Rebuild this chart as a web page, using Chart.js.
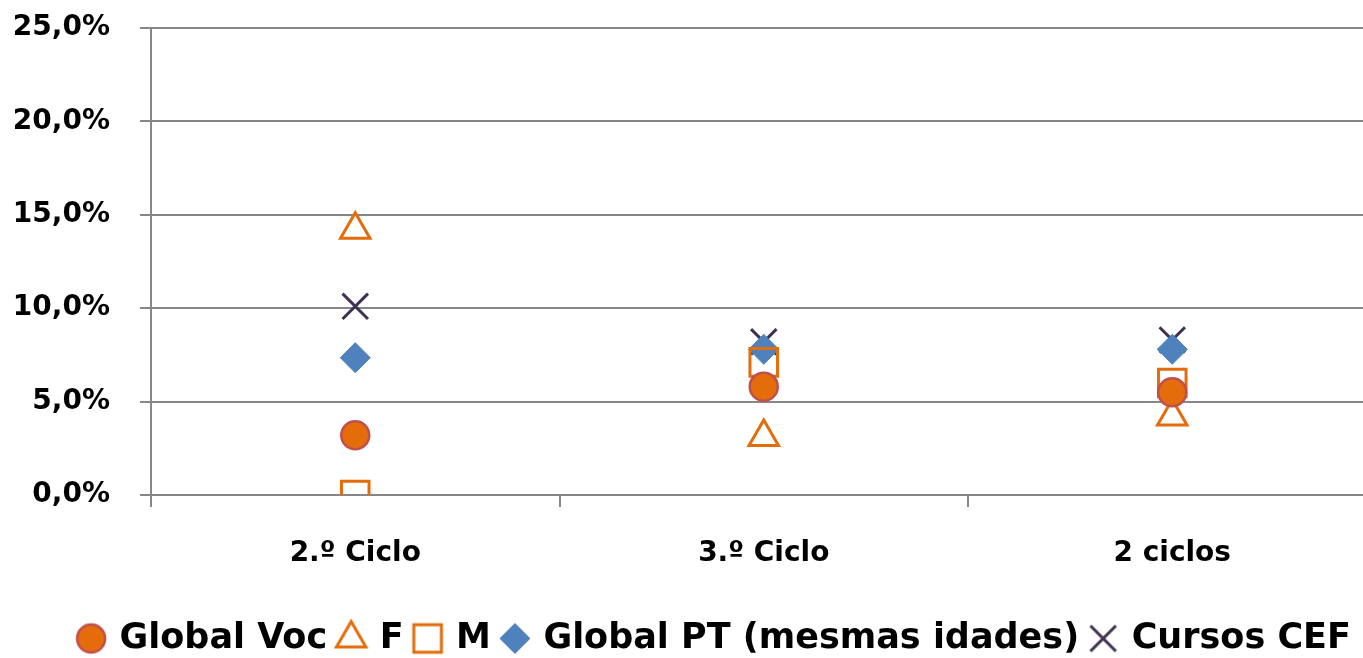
<!DOCTYPE html>
<html>
<head>
<meta charset="utf-8">
<script src="https://cdn.jsdelivr.net/npm/chart.js@4/dist/chart.umd.min.js"></script>
<style>
  html, body { margin: 0; padding: 0; background: #fff; overflow: hidden; }
  canvas { display: block; }
</style>
</head>
<body>
<canvas id="c" width="1399" height="658"></canvas>
<script>
// Categories and series (percent values)
const categories = ['2.º Ciclo', '3.º Ciclo', '2 ciclos'];
const globalVoc = [3.2, 5.8, 5.5];
const femSeries = [14.2, 3.1, 4.2];
const mascSeries = [0.0, 7.1, 6.0];
const globalPT = [7.35, 7.8, 7.8];
const cursosCEF = [10.1, 8.2, 8.3];
const yTicks = [0, 5, 10, 15, 20, 25];

const FONT = '"DejaVu Sans"';
const GRID = '#878787';

const ds = (label, data, style, radius, fill, border, bw) => ({
  label, data,
  showLine: false,
  pointStyle: style,
  pointRadius: radius,
  pointHoverRadius: radius,
  pointBackgroundColor: fill,
  pointBorderColor: border,
  pointBorderWidth: bw,
  backgroundColor: fill,
  borderColor: border,
  borderWidth: bw
});

// Legend symbols drawn at the same size as the plotted markers
function legendSymbol(dset) {
  const s = 44;
  const cv = document.createElement('canvas');
  cv.width = s; cv.height = s;
  const ctx = cv.getContext('2d');
  ctx.fillStyle = dset.pointBackgroundColor;
  ctx.strokeStyle = dset.pointBorderColor;
  ctx.lineWidth = dset.pointBorderWidth;
  Chart.helpers.drawPoint(ctx, {
    pointStyle: dset.pointStyle,
    radius: dset.pointRadius,
    borderWidth: dset.pointBorderWidth,
    rotation: 0
  }, s / 2, s / 2);
  return cv;
}

// Nudges the legend row after layout
const legendShift = {
  id: 'legendShift',
  afterLayout(chart) {
    const lg = chart.legend;
    if (lg) {
      lg.left += 11; lg.right += 11;
      lg.top += 8; lg.bottom += 8;
    }
  }
};

new Chart(document.getElementById('c'), {
  type: 'line',
  data: {
    labels: categories,
    datasets: [
      ds('Global Voc', globalVoc, 'circle', 14, '#E46C0A', '#C0504D', 2.5),
      ds('F', femSeries, 'triangle', 17, 'rgba(255,255,255,0)', '#E46C0A', 3),
      ds('M', mascSeries, 'rect', 19.5, 'rgba(255,255,255,0)', '#E46C0A', 3),
      ds('Global PT (mesmas idades)', globalPT, 'rectRot', 15, '#4F81BD', '#4F81BD', 1),
      ds('Cursos CEF', cursosCEF, 'crossRot', 18, '#3F3151', '#3F3151', 3)
    ]
  },
  plugins: [legendShift],
  options: {
    responsive: false,
    animation: false,
    layout: { padding: { top: 28, left: 10, right: 0, bottom: 0 } },
    plugins: {
      tooltip: { enabled: false },
      legend: {
        position: 'bottom',
        labels: {
          usePointStyle: true,
          boxWidth: 22,
          boxHeight: 22,
          padding: 13,
          color: '#000',
          font: { family: FONT, size: 35, weight: 'bold' },
          generateLabels(chart) {
            const items = Chart.defaults.plugins.legend.labels.generateLabels(chart);
            items.forEach((it) => {
              it.pointStyle = legendSymbol(chart.data.datasets[it.datasetIndex]);
            });
            return items;
          }
        }
      }
    },
    scales: {
      x: {
        type: 'category',
        offset: true,
        grid: {
          offset: true,
          drawOnChartArea: false,
          drawTicks: true,
          tickLength: 12,
          color: GRID,
          lineWidth: 2
        },
        border: { display: true, color: GRID, width: 2 },
        ticks: {
          color: '#000',
          padding: 30,
          font: { family: FONT, size: 28, weight: 'bold' }
        },
        afterFit(axis) {
          axis.paddingLeft = 0;
          axis.paddingRight = 0;
          axis.height = 105;
        }
      },
      y: {
        min: 0,
        max: 25,
        afterBuildTicks: (axis) => { axis.ticks = yTicks.map(v => ({ value: v })); },
        grid: {
          color: GRID,
          lineWidth: 2,
          drawTicks: true,
          tickLength: 11
        },
        border: { display: true, color: GRID, width: 2 },
        ticks: {
          color: '#000',
          padding: 30,
          font: { family: FONT, size: 28, weight: 'bold' },
          callback: (v) => v.toFixed(1).replace('.', ',') + '%'
        },
        afterFit(axis) {
          axis.paddingTop = 0;
          axis.paddingBottom = 0;
          axis.width = 141;
        }
      }
    }
  }
});
</script>
</body>
</html>
